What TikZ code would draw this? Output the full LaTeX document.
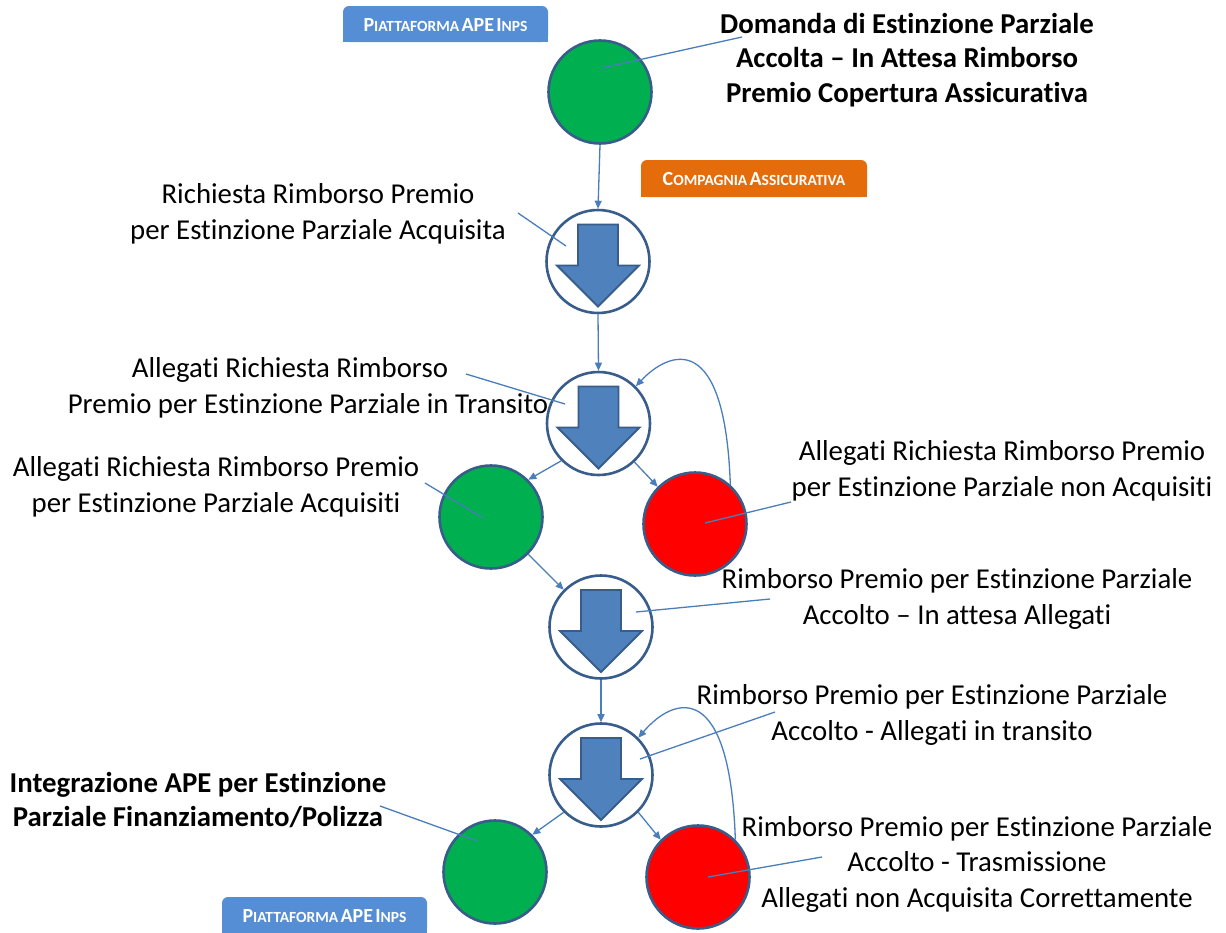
\documentclass[tikz,border=0pt]{standalone}
\usepackage{fontspec}
\setmainfont{Carlito}[Ligatures=NoCommon]
\usetikzlibrary{arrows.meta}
\definecolor{bblue}{RGB}{85,142,213}
\definecolor{borange}{RGB}{228,108,10}
\definecolor{circb}{RGB}{56,93,138}
\definecolor{gfill}{RGB}{0,176,80}
\definecolor{rfill}{RGB}{255,0,0}
\definecolor{afill}{RGB}{79,129,189}
\definecolor{conn}{RGB}{74,126,187}
\newcommand\scA[2]{{\fontsize{20}{20}\selectfont #1}{\fontsize{15.5}{15.5}\selectfont #2}}
\newcommand\bigC[1]{{\fontsize{20}{20}\selectfont #1}}
\tikzset{
  dot/.style={circle, draw=circb, line width=2.6pt, minimum size=103pt, inner sep=0pt},
  gdot/.style={dot, fill=gfill},
  rdot/.style={dot, fill=rfill},
  adot/.style={dot, fill=white},
  arrowfill/.style={fill=afill, draw=circb, line width=1.8pt, line join=miter},
  downarrow/.pic={\draw[arrowfill] (-20,-37) -- (20,-37) -- (20,4) -- (41,4) -- (0,45) -- (-41,4) -- (-20,4) -- cycle;},
  link/.style={draw=conn, line width=1.3pt, -{Triangle[length=8pt,width=7pt]}},
  lead/.style={draw=conn, line width=1.3pt},
  lbl/.style={align=center, font=\fontsize{28.8}{35.5}\selectfont, inner sep=0pt},
  blbl/.style={lbl, font=\fontsize{28.8}{34.8}\selectfont\bfseries},
  badgetext/.style={text=white, font=\bfseries, inner sep=0pt}
}
\begin{document}
\begin{tikzpicture}[x=1pt, y=-1pt]
\path[use as bounding box, fill=white] (0,0) rectangle (1226,932);

% badges
\fill[bblue, rounded corners=6pt] (343,6) rectangle (548,42);
\fill[bblue] (343,24) rectangle (548,42);
\node[badgetext] (b1) at (445.5,25) {\scA{P}{IATTAFORMA} \bigC{APE} \scA{I}{NPS}};
\fill[borange, rounded corners=6pt] (641,160) rectangle (867,197);
\fill[borange] (641,180) rectangle (867,197);
\node[badgetext] (b2) at (754,179.5) {\scA{C}{OMPAGNIA} \scA{A}{SSICURATIVA}};
\fill[bblue, rounded corners=6pt] (222,897) rectangle (427,934);
\fill[bblue] (222,915) rectangle (427,934);
\node[badgetext] (b3) at (324.5,916) {\scA{P}{IATTAFORMA} \bigC{APE} \scA{I}{NPS}};

% circles
\node[gdot] (c1) at (600,92) {};
\node[adot] (c2) at (598,261.5) {};
\pic at (c2) {downarrow};
\node[adot] (c3) at (598.5,423.5) {};
\pic at (c3) {downarrow};
\node[gdot] (c4) at (491,517) {};
\node[rdot] (c5) at (695,524) {};
\node[adot] (c6) at (601,627) {};
\pic at (c6) {downarrow};
\node[adot] (c7) at (601,775) {};
\pic at (c7) {downarrow};
\node[gdot] (c8) at (495,872) {};
\node[rdot] (c9) at (698,877) {};

% texts
\node[blbl] (t1) at (907,60) {Domanda di Estinzione Parziale\\Accolta – In Attesa Rimborso\\Premio Copertura Assicurativa};
\node[lbl] (t2) at (318,214) {Richiesta Rimborso Premio\\per Estinzione Parziale Acquisita};
\node[lbl] (t3) at (308,388) {Allegati Richiesta Rimborso\rule{36pt}{0pt}\\Premio per Estinzione Parziale in Transito};
\node[lbl] (t4) at (216,487) {Allegati Richiesta Rimborso Premio\\per Estinzione Parziale Acquisiti};
\node[lbl] (t5) at (1002,471) {Allegati Richiesta Rimborso Premio\\per Estinzione Parziale non Acquisiti};
\node[lbl] (t6) at (957,599) {Rimborso Premio per Estinzione Parziale\\Accolto – In attesa Allegati};
\node[lbl] (t7) at (932,715) {Rimborso Premio per Estinzione Parziale\\Accolto - Allegati in transito};
\node[blbl] (t8) at (198,800) {Integrazione APE per Estinzione\\Parziale Finanziamento/Polizza};
\node[lbl] (t9) at (977,864) {Rimborso Premio per Estinzione Parziale\\Accolto - Trasmissione\\Allegati non Acquisita Correttamente};

% leader line ends
\coordinate (p1) at (742,37);  \coordinate (q1) at (602,68);
\coordinate (p2) at (518,213); \coordinate (q2) at (566,246);
\coordinate (p3) at (466,374); \coordinate (q3) at (565,404);
\coordinate (p4) at (425,483); \coordinate (q4) at (483,518);
\coordinate (p5) at (791,502); \coordinate (q5) at (705,523);
\coordinate (p6) at (770,599); \coordinate (q6) at (636,612);
\coordinate (p7) at (775,712); \coordinate (q7) at (640,759);
\coordinate (p8) at (380,806); \coordinate (q8) at (477,841);
\coordinate (p9) at (822,857); \coordinate (q9) at (708,877);
\foreach \i in {1,...,9} {\draw[lead] (p\i) -- (q\i);}

% connectors
\draw[link] (c1.south) -- (c2.north);
\draw[link] (c2.south) -- (c3.north);
\draw[link] (c3.225) -- (c4.45);
\draw[link] (c3.-47) -- (c5.135);
\draw[link] (c4.-45) -- (c6.135);
\draw[link] (c6.south) -- (c7.north);
\draw[link] (c7.225) -- (c8.45);
\draw[link] (c7.-45) -- (c9.135);
\draw[link] (c5.48) .. controls (725,330) and (670,350) .. (c3.45);
\draw[link] (c9.45) .. controls (730,680) and (675,695) .. (c7.45);
\end{tikzpicture}
\end{document}
